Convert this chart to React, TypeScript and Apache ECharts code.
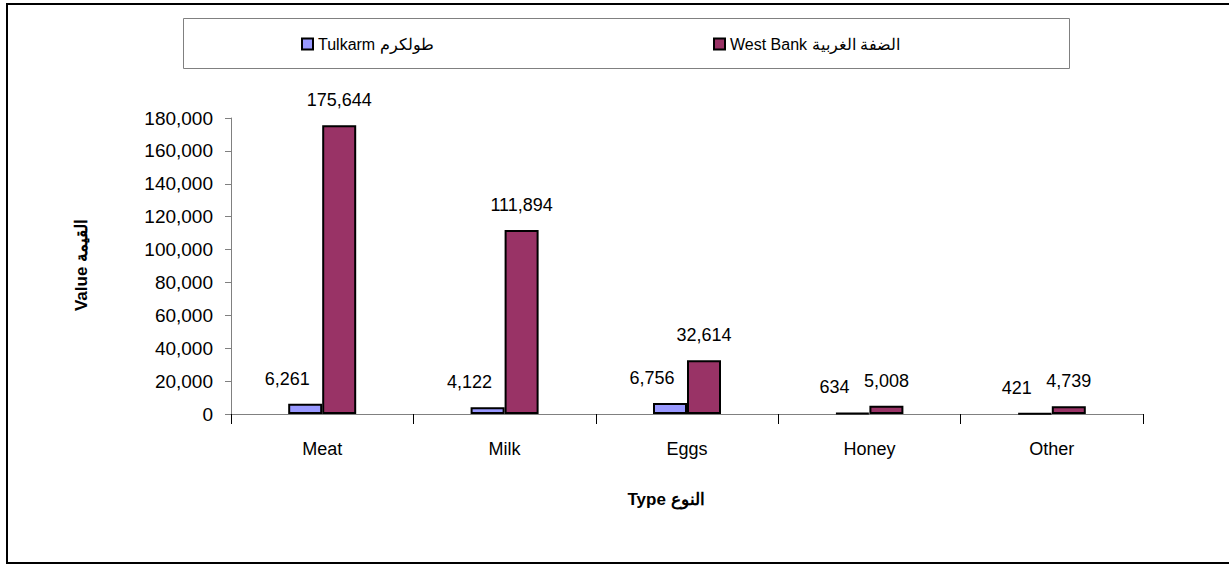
import React, { useEffect, useRef } from "react";
import * as echarts from "echarts";

const categories = ["Meat", "Milk", "Eggs", "Honey", "Other"];
const tulkarmValues = [6261, 4122, 6756, 634, 421];
const westBankValues = [175644, 111894, 32614, 5008, 4739];
const tulkarmName = "Tulkarm طولكرم";
const westBankName = "West Bank الضفة الغربية";
const yAxisTitle = "Value القيمة";
const xAxisTitle = "Type النوع";

const FONT = "'Liberation Sans', Arial, sans-serif";

export default function App() {
  const ref = useRef<HTMLDivElement>(null);
  useEffect(() => {
    if (!ref.current) return;
    const chart = echarts.init(ref.current, null, { renderer: "svg" });
    const fmt = (v: number) => Number(v).toLocaleString("en-US");
    const legendCommon = {
      top: 36,
      padding: 0,
      itemWidth: 11,
      itemHeight: 11,
      icon: "rect",
      itemStyle: { borderColor: "#000", borderWidth: 2 },
      textStyle: { fontSize: 16, color: "#000", fontFamily: FONT, fontWeight: "normal" },
    };
    chart.setOption({
      animation: false,
      backgroundColor: "#ffffff",
      textStyle: { fontFamily: FONT, color: "#000" },
      grid: { left: 231, right: 86, top: 118, bottom: 151, containLabel: false },
      legend: [
        { ...legendCommon, data: [tulkarmName], left: 301 },
        { ...legendCommon, data: [westBankName], left: 713 },
      ],
      xAxis: {
        type: "category",
        data: categories,
        axisLine: { lineStyle: { color: "#808080", width: 1 } },
        axisTick: { show: true, length: 10, lineStyle: { color: "#000" } },
        axisLabel: { fontSize: 18, color: "#000", margin: 26, fontFamily: FONT },
      },
      yAxis: {
        type: "value",
        min: 0,
        max: 180000,
        interval: 20000,
        splitLine: { show: false },
        axisLine: { show: true, lineStyle: { color: "#808080", width: 1 } },
        axisTick: { show: true, length: 6, lineStyle: { color: "#808080" } },
        axisLabel: {
          fontSize: 19,
          color: "#000",
          margin: 18,
          fontFamily: FONT,
          formatter: (v: number) => fmt(v),
        },
      },
      series: [
        {
          name: tulkarmName,
          type: "bar",
          data: tulkarmValues,
          barWidth: 34,
          barGap: "0%",
          itemStyle: { color: "#9999FF", borderColor: "#000", borderWidth: 2 },
          label: {
            show: true,
            position: "top",
            distance: 16,
            offset: [-18, 0],
            fontSize: 18,
            color: "#000",
            fontFamily: FONT,
            formatter: (p: any) => fmt(p.value),
          },
        },
        {
          name: westBankName,
          type: "bar",
          data: westBankValues,
          barWidth: 34,
          barGap: "0%",
          itemStyle: { color: "#993366", borderColor: "#000", borderWidth: 2 },
          label: {
            show: true,
            position: "top",
            distance: 16,
            fontSize: 18,
            color: "#000",
            fontFamily: FONT,
            formatter: (p: any) => fmt(p.value),
          },
        },
      ],
      graphic: [
        {
          type: "rect",
          shape: { x: 7, y: 4, width: 1250, height: 559 },
          style: { fill: "none", stroke: "#000", lineWidth: 2 },
          silent: true,
          z: -10,
        },
        {
          type: "rect",
          shape: { x: 183.5, y: 18.5, width: 886, height: 50 },
          style: { fill: "none", stroke: "#808080", lineWidth: 1 },
          silent: true,
          z: -10,
        },
        {
          type: "text",
          x: 81,
          y: 265,
          rotation: Math.PI / 2,
          style: {
            text: yAxisTitle,
            fontSize: 17,
            fontWeight: "bold",
            fontFamily: FONT,
            fill: "#000",
            align: "center",
            verticalAlign: "middle",
          },
        },
        {
          type: "text",
          x: 666,
          y: 499,
          style: {
            text: xAxisTitle,
            fontSize: 17,
            fontWeight: "bold",
            fontFamily: FONT,
            fill: "#000",
            align: "center",
            verticalAlign: "middle",
          },
        },
      ],
    });
    return () => chart.dispose();
  }, []);
  return (
    <div
      ref={ref}
      style={{ position: "fixed", left: 0, top: 0, width: 1229, height: 565, background: "#fff" }}
    />
  );
}
